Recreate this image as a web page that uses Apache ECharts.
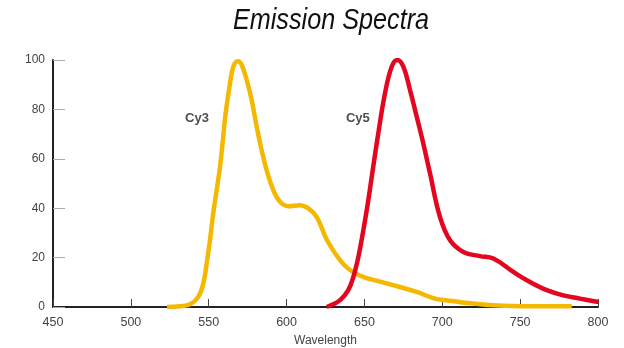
<!DOCTYPE html>
<html>
<head>
<meta charset="utf-8">
<script src="https://cdn.jsdelivr.net/npm/echarts@6/dist/echarts.min.js"></script>
<style>html,body{margin:0;padding:0;background:#fff}#c{width:624px;height:348px}</style>
</head>
<body>
<div id="c"></div>
<script>
const titleText = 'Emission Spectra';
const xName = 'Wavelength';
const xTicks = [450, 500, 550, 600, 650, 700, 750, 800];
const yTicks = [0, 20, 40, 60, 80, 100];

const cy3Wavelength = [523.2,531.6,538.0,543.3,546.5,548.7,550.8,552.9,555.1,557.3,559.0,560.8,563.7,565.8,568.6,571.2,574.4,577.6,580.8,584.0,587.2,591.5,595.8,601.1,608.6,614.0,619.3,626.0,632.0,637.0,643.0,650.0,660.0,672.8,683.6,695.3,702.8,719.9,732.8,756.3,783.1];
const cy3Intensity  = [0,0.3,1.1,4.1,9.5,17.6,27,37.9,47.3,57,67,78,90.6,97.3,99.5,98,91.9,83.8,73,63.5,55.4,47.3,42.6,40.8,41.2,39.9,36.5,27,21,17,14,12,10.3,8.1,6.1,3.4,2.7,1.4,0.7,0.3,0.3];

const cy5Wavelength = [625.8,634.3,639.6,642.9,646.1,649.3,652.5,654.7,658.9,663.2,667.5,671.1,675.0,679.3,683.6,687.8,692.1,698.5,705.0,713.5,724.2,732.8,745.6,756.3,767.1,777.7,788.4,800.2];
const cy5Intensity  = [0,2.7,6.8,12.2,20.3,31.1,43.3,52.7,70.3,86.5,97.3,100,97.3,87.8,77,66.2,54.1,36.5,27,22.3,20.6,19.6,14.2,10.1,6.8,4.7,3.4,2];

const seriesNames = ['Cy3', 'Cy5'];
const labelX = [542.5, 645.8];
const labelY = [76.5, 76.5];

const zip = (a, b) => a.map((v, i) => [v, b[i]]);

const chart = echarts.init(document.getElementById('c'));
chart.setOption({
  backgroundColor: '#fff',
  animation: false,
  graphic: [{
    type: 'text', x: 331, y: 21, scaleX: 0.84,
    style: {
      text: titleText, textAlign: 'center', textVerticalAlign: 'middle',
      fontFamily: 'Liberation Sans', fontStyle: 'italic', fontWeight: 'normal', fontSize: 30, fill: '#111'
    }
  }],
  grid: { left: 53, right: 26, top: 60, bottom: 41, containLabel: false, outerBoundsMode: 'none' },
  xAxis: {
    type: 'value', min: xTicks[0], max: xTicks[xTicks.length - 1], interval: 50,
    name: xName, nameLocation: 'middle', nameGap: 28,
    nameTextStyle: { fontFamily: 'Liberation Sans', fontSize: 12, color: '#444' },
    axisLine: { lineStyle: { color: '#222', width: 2 } },
    axisTick: { inside: true, length: 8, lineStyle: { color: '#444', width: 1 } },
    axisLabel: { margin: 9, fontFamily: 'Liberation Sans', fontSize: 12.5, color: '#444' },
    splitLine: { show: false }
  },
  yAxis: {
    type: 'value', min: yTicks[0], max: yTicks[yTicks.length - 1], interval: 20,
    axisLine: { show: true, lineStyle: { color: '#222', width: 2 } },
    axisTick: { show: true, inside: true, length: 12, lineStyle: { color: '#aaa', width: 1 } },
    axisLabel: { margin: 8, fontFamily: 'Liberation Sans', fontSize: 12, color: '#444' },
    splitLine: { show: false }
  },
  series: [
    {
      name: seriesNames[0], type: 'line', smooth: 0.4, showSymbol: false,
      lineStyle: { color: '#f5b800', width: 4.5 },
      data: zip(cy3Wavelength, cy3Intensity)
    },
    {
      name: seriesNames[1], type: 'line', smooth: 0.4, showSymbol: false,
      lineStyle: { color: '#e3061e', width: 4.5 },
      data: zip(cy5Wavelength, cy5Intensity)
    },
    {
      type: 'scatter', symbolSize: 0, silent: true,
      label: {
        show: true, position: 'inside', formatter: p => seriesNames[p.dataIndex],
        fontFamily: 'Liberation Sans', fontWeight: 'bold', fontSize: 13, color: '#222'
      },
      data: zip(labelX, labelY)
    }
  ]
});
</script>
</body>
</html>
